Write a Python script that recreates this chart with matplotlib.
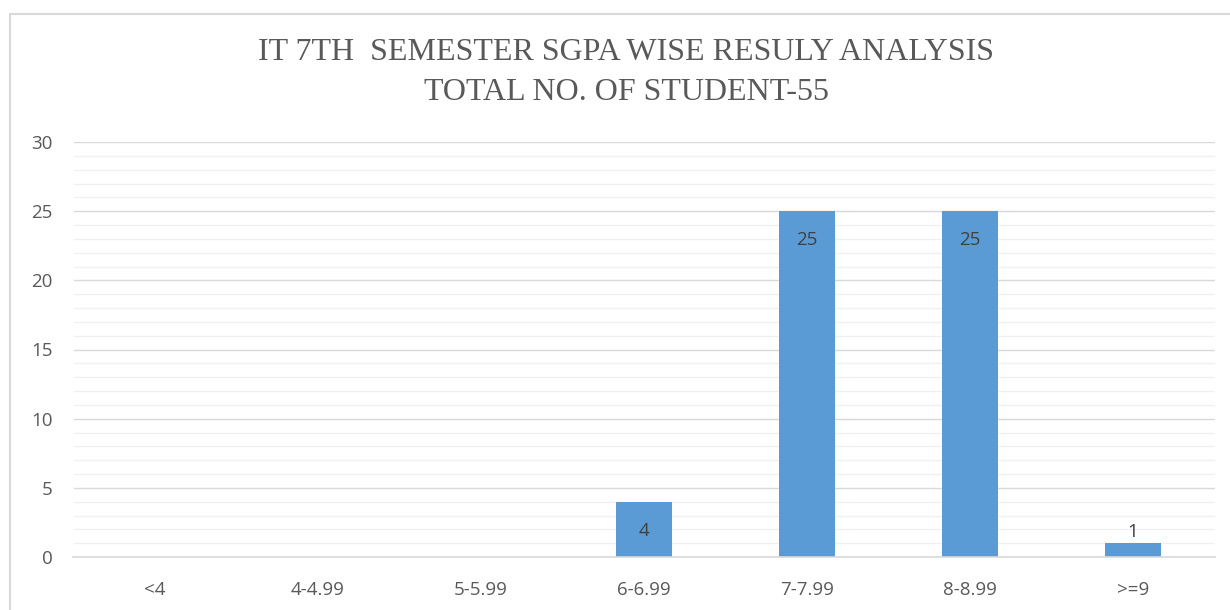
import matplotlib
matplotlib.use("Agg")
import matplotlib.pyplot as plt
from matplotlib.patches import Rectangle
from matplotlib.ticker import MultipleLocator

categories = ["<4", "4-4.99", "5-5.99", "6-6.99", "7-7.99", "8-8.99", ">=9"]
students = [0, 0, 0, 4, 25, 25, 1]
title_lines = ["IT 7TH  SEMESTER SGPA WISE RESULY ANALYSIS", "TOTAL NO. OF STUDENT-55"]

W, H = 1230, 610
fig = plt.figure(figsize=(W / 100, H / 100), dpi=100)
fig.patch.set_facecolor("white")

# chart frame
fig.patches.append(Rectangle((10 / W, -0.05), 1.2, (H - 14) / H + 0.05,
                             transform=fig.transFigure, fill=False,
                             edgecolor="#d9d9d9", linewidth=1.5))

left, right = 73.5 / W, 1214.5 / W
bottom, top = (H - 557) / H, (H - 142) / H
ax = fig.add_axes([left, bottom, right - left, top - bottom])

x = range(len(categories))
bars = ax.bar(x, students, width=0.345, color="#5b9bd5", zorder=3)

ax.set_xlim(-0.5, len(categories) - 0.5)
ax.set_ylim(0, 30)
ax.yaxis.set_major_locator(MultipleLocator(5))
ax.yaxis.set_minor_locator(MultipleLocator(1))
ax.grid(axis="y", which="major", color="#d9d9d9", linewidth=1.0, zorder=0)
ax.grid(axis="y", which="minor", color="#f0f0f0", linewidth=1.0, zorder=0)
ax.set_axisbelow(True)

for s in ["top", "right", "left"]:
    ax.spines[s].set_visible(False)
ax.spines["bottom"].set_color("#d9d9d9")
ax.spines["bottom"].set_linewidth(1.2)
ax.spines["bottom"].set_zorder(4)

ax.set_xticks(list(x))
ax.set_xticklabels(categories)
ax.tick_params(axis="both", which="both", length=0, labelsize=13.5,
               labelcolor="#595959")
ax.tick_params(axis="x", pad=17)
ax.tick_params(axis="y", pad=15)
for lab in ax.get_xticklabels() + ax.get_yticklabels():
    lab.set_fontfamily("Open Sans")

# value labels
for xi, v in zip(x, students):
    if v == 0:
        continue
    if v >= 3:
        ax.annotate(str(v), (xi, v), xytext=(0, -21), textcoords="offset points",
                    ha="center", va="center", fontsize=13.5, color="#404040",
                    family="Open Sans", zorder=5)
    else:
        ax.annotate(str(v), (xi, v), xytext=(0, 8), textcoords="offset points",
                    ha="center", va="center", fontsize=13.5, color="#404040",
                    family="Open Sans", zorder=5)

fig.text(626 / W, 1 - 52 / H, title_lines[0], ha="center", va="center",
         family="Liberation Serif", fontsize=23, color="#595959")
fig.text(626 / W, 1 - 92 / H, title_lines[1], ha="center", va="center",
         family="Liberation Serif", fontsize=23, color="#595959")

fig.savefig("out.png", dpi=100)
